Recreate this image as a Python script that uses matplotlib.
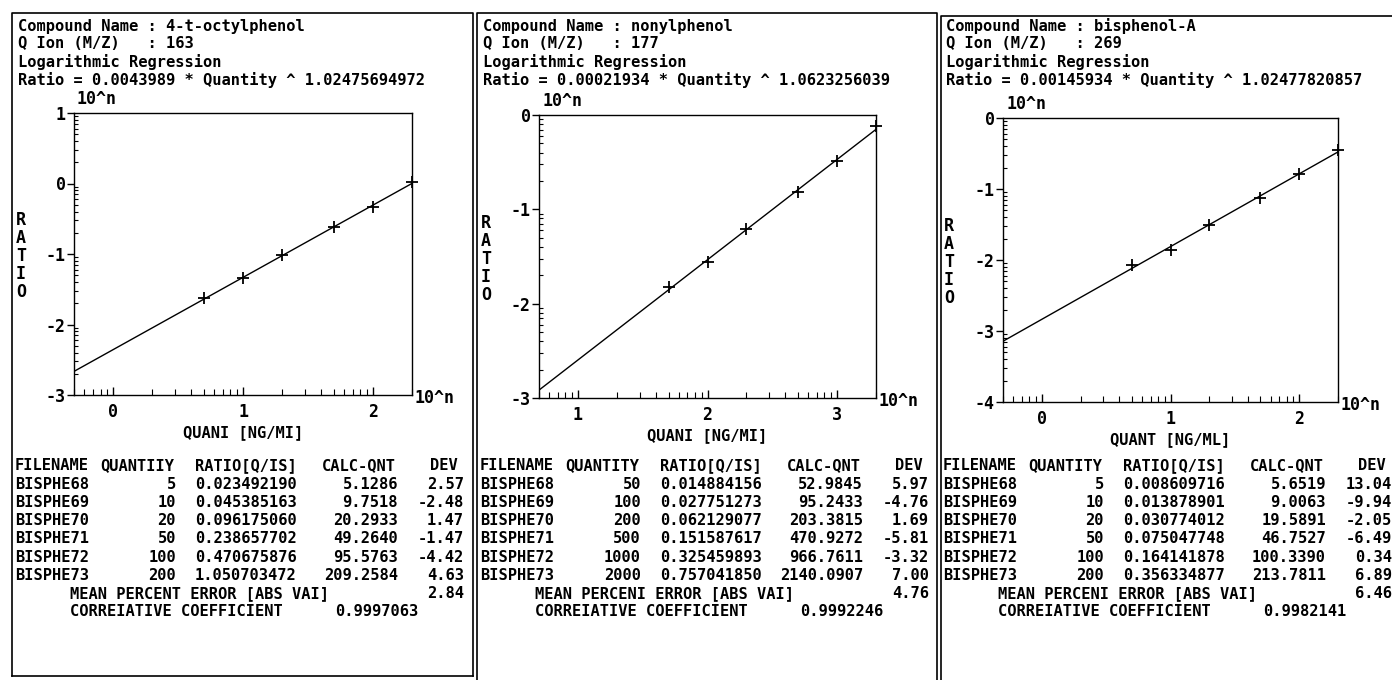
import numpy as np
import matplotlib
matplotlib.use("Agg")
import matplotlib.pyplot as plt
from matplotlib.lines import Line2D

W, H = 1392, 680
FONT = "DejaVu Sans Mono"
FS = 11.1

# ---------------- data ----------------
compound_names = ["4-t-octylphenol", "nonylphenol", "bisphenol-A"]
q_ions = ["163", "177", "269"]
coef_a = ["0.0043989", "0.00021934", "0.00145934"]
coef_b = ["1.02475694972", "1.0623256039", "1.02477820857"]
file_names = ["BISPHE68", "BISPHE69", "BISPHE70", "BISPHE71", "BISPHE72", "BISPHE73"]

quantity_1 = [5, 10, 20, 50, 100, 200]
ratio_1 = [0.023492190, 0.045385163, 0.096175060, 0.238657702, 0.470675876, 1.050703472]
calc_1 = [5.1286, 9.7518, 20.2933, 49.2640, 95.5763, 209.2584]
dev_1 = [2.57, -2.48, 1.47, -1.47, -4.42, 4.63]

quantity_2 = [50, 100, 200, 500, 1000, 2000]
ratio_2 = [0.014884156, 0.027751273, 0.062129077, 0.151587617, 0.325459893, 0.757041850]
calc_2 = [52.9845, 95.2433, 203.3815, 470.9272, 966.7611, 2140.0907]
dev_2 = [5.97, -4.76, 1.69, -5.81, -3.32, 7.00]

quantity_3 = [5, 10, 20, 50, 100, 200]
ratio_3 = [0.008609716, 0.013878901, 0.030774012, 0.075047748, 0.164141878, 0.356334877]
calc_3 = [5.6519, 9.0063, 19.5891, 46.7527, 100.3390, 213.7811]
dev_3 = [13.04, -9.94, -2.05, -6.49, 0.34, 6.89]

mean_error = [2.84, 4.76, 6.46]
corr_coef = ["0.9997063", "0.9992246", "0.9982141"]

x_labels = ["QUANI [NG/MI]", "QUANI [NG/MI]", "QUANT [NG/ML]"]
qty_headers = ["QUANTIIY", "QUANTITY", "QUANTITY"]
mean_labels = ["MEAN PERCENT ERROR [ABS VAI]",
               "MEAN PERCENI ERROR [ABS VAI]",
               "MEAN PERCENI ERROR [ABS VAI]"]
corr_label = "CORREIATIVE COEFFICIENT"
y_limits = [(-3, 1), (-3, 0), (-4, 0)]

quantities = [quantity_1, quantity_2, quantity_3]
ratios = [ratio_1, ratio_2, ratio_3]
calcs = [calc_1, calc_2, calc_3]
devs = [dev_1, dev_2, dev_3]

# ---------------- layout (pixels) ----------------
panel_x = [0, 465, 928]
axes_px = [(74, 113, 412, 395), (539, 115, 876, 398), (1003, 118, 1338, 402)]
header_y = [26, 44, 62, 80]
table_y0 = 466
table_dy = 18.2

fig = plt.figure(figsize=(W / 100, H / 100), dpi=100)
fig.patch.set_facecolor("white")


def T(x, y, s, **kw):
    kw.setdefault("family", FONT)
    kw.setdefault("fontsize", FS)
    kw.setdefault("weight", "bold")
    kw.setdefault("va", "center")
    kw.setdefault("ha", "left")
    kw.setdefault("color", "black")
    return fig.text(x / W, 1 - y / H, s, **kw)


def L(xs, ys, lw=1.2):
    fig.add_artist(Line2D([x / W for x in xs], [1 - y / H for y in ys],
                          transform=fig.transFigure, color="black", lw=lw))


# panel borders
L([12, 12, 473, 473], [676, 13, 13, 676])
L([12, 473], [676, 676])
L([477, 477, 937, 937], [680, 13, 13, 680])
L([941, 941, 1392], [680, 16, 16])

for i in range(3):
    ox = panel_x[i]
    q = np.array(quantities[i], dtype=float)
    r = np.array(ratios[i], dtype=float)
    a = float(coef_a[i])
    b = float(coef_b[i])

    # header
    T(ox + 18, header_y[0], "Compound Name : " + compound_names[i])
    T(ox + 18, header_y[1], "Q Ion (M/Z)   : " + q_ions[i])
    T(ox + 18, header_y[2], "Logarithmic Regression")
    T(ox + 18, header_y[3], "Ratio = " + coef_a[i] + " * Quantity ^ " + coef_b[i])

    # axes
    l, t, rr, bt = axes_px[i]
    ax = fig.add_axes([l / W, 1 - bt / H, (rr - l) / W, (bt - t) / H])
    xmin = np.log10(q.min() / 10.0)
    xmax = np.log10(q.max())
    ax.set_xlim(xmin, xmax)
    ax.set_ylim(*y_limits[i])

    xt = np.arange(np.ceil(xmin), np.floor(xmax) + 1)
    ax.set_xticks(xt)
    ax.set_xticklabels([str(int(v)) for v in xt])
    yt = np.arange(y_limits[i][0], y_limits[i][1] + 1)
    ax.set_yticks(yt)
    ax.set_yticklabels([str(int(v)) for v in yt])

    xminor = [d + np.log10(k) for d in range(int(np.floor(xmin)), int(np.ceil(xmax)) + 1)
              for k in range(2, 10) if xmin <= d + np.log10(k) <= xmax]
    yminor = [d + np.log10(k) for d in range(y_limits[i][0], y_limits[i][1])
              for k in range(2, 10)]
    ax.set_xticks(xminor, minor=True)
    ax.set_yticks(yminor, minor=True)

    ax.tick_params(axis="x", which="major", direction="in", length=6, width=1.0, pad=6)
    ax.tick_params(axis="x", which="minor", direction="in", length=4, width=0.8)
    ax.tick_params(axis="y", which="major", direction="out", length=5, width=1.0, pad=1)
    ax.tick_params(axis="y", which="minor", direction="in", length=3, width=0.8)
    for lab in ax.get_xticklabels() + ax.get_yticklabels():
        lab.set_family(FONT)
        lab.set_fontsize(12)
        lab.set_weight("bold")
    for sp in ax.spines.values():
        sp.set_linewidth(1.0)

    # regression line and points
    xs = np.array([xmin, xmax])
    ax.plot(xs, np.log10(a) + b * xs, color="black", lw=1.0)
    ax.plot(np.log10(q), np.log10(r), linestyle="none", marker="+",
            markersize=9, markeredgewidth=1.3, color="black", clip_on=False)

    # axis annotations
    T(l + 3, t - 14, "10^n", fontsize=12)
    T(rr + 3, bt + 3, "10^n", fontsize=12)
    T(ox + 21, (t + bt) / 2 + 2, "R\nA\nT\nI\nO", ha="center", linespacing=1.0, fontsize=12)
    T((l + rr) / 2, bt + 38, x_labels[i], ha="center")

    # table
    ys = [table_y0 + table_dy * k for k in range(9)]
    T(ox + 15, ys[0], "FILENAME")
    T(ox + 100, ys[0], qty_headers[i])
    T(ox + 195, ys[0], "RATIO[Q/IS]")
    T(ox + 322, ys[0], "CALC-QNT")
    T(ox + 458, ys[0], "DEV", ha="right")
    for k in range(6):
        y = ys[k + 1]
        T(ox + 15, y, file_names[k])
        T(ox + 176, y, str(quantities[i][k]), ha="right")
        T(ox + 195, y, "%.9f" % ratios[i][k])
        T(ox + 398, y, "%.4f" % calcs[i][k], ha="right")
        T(ox + 464, y, "%.2f" % devs[i][k], ha="right")
    T(ox + 70, ys[7], mean_labels[i])
    T(ox + 464, ys[7], "%.2f" % mean_error[i], ha="right")
    T(ox + 70, ys[8], corr_label)
    T(ox + 335, ys[8], corr_coef[i])

fig.savefig("out.png", dpi=100, facecolor="white")
